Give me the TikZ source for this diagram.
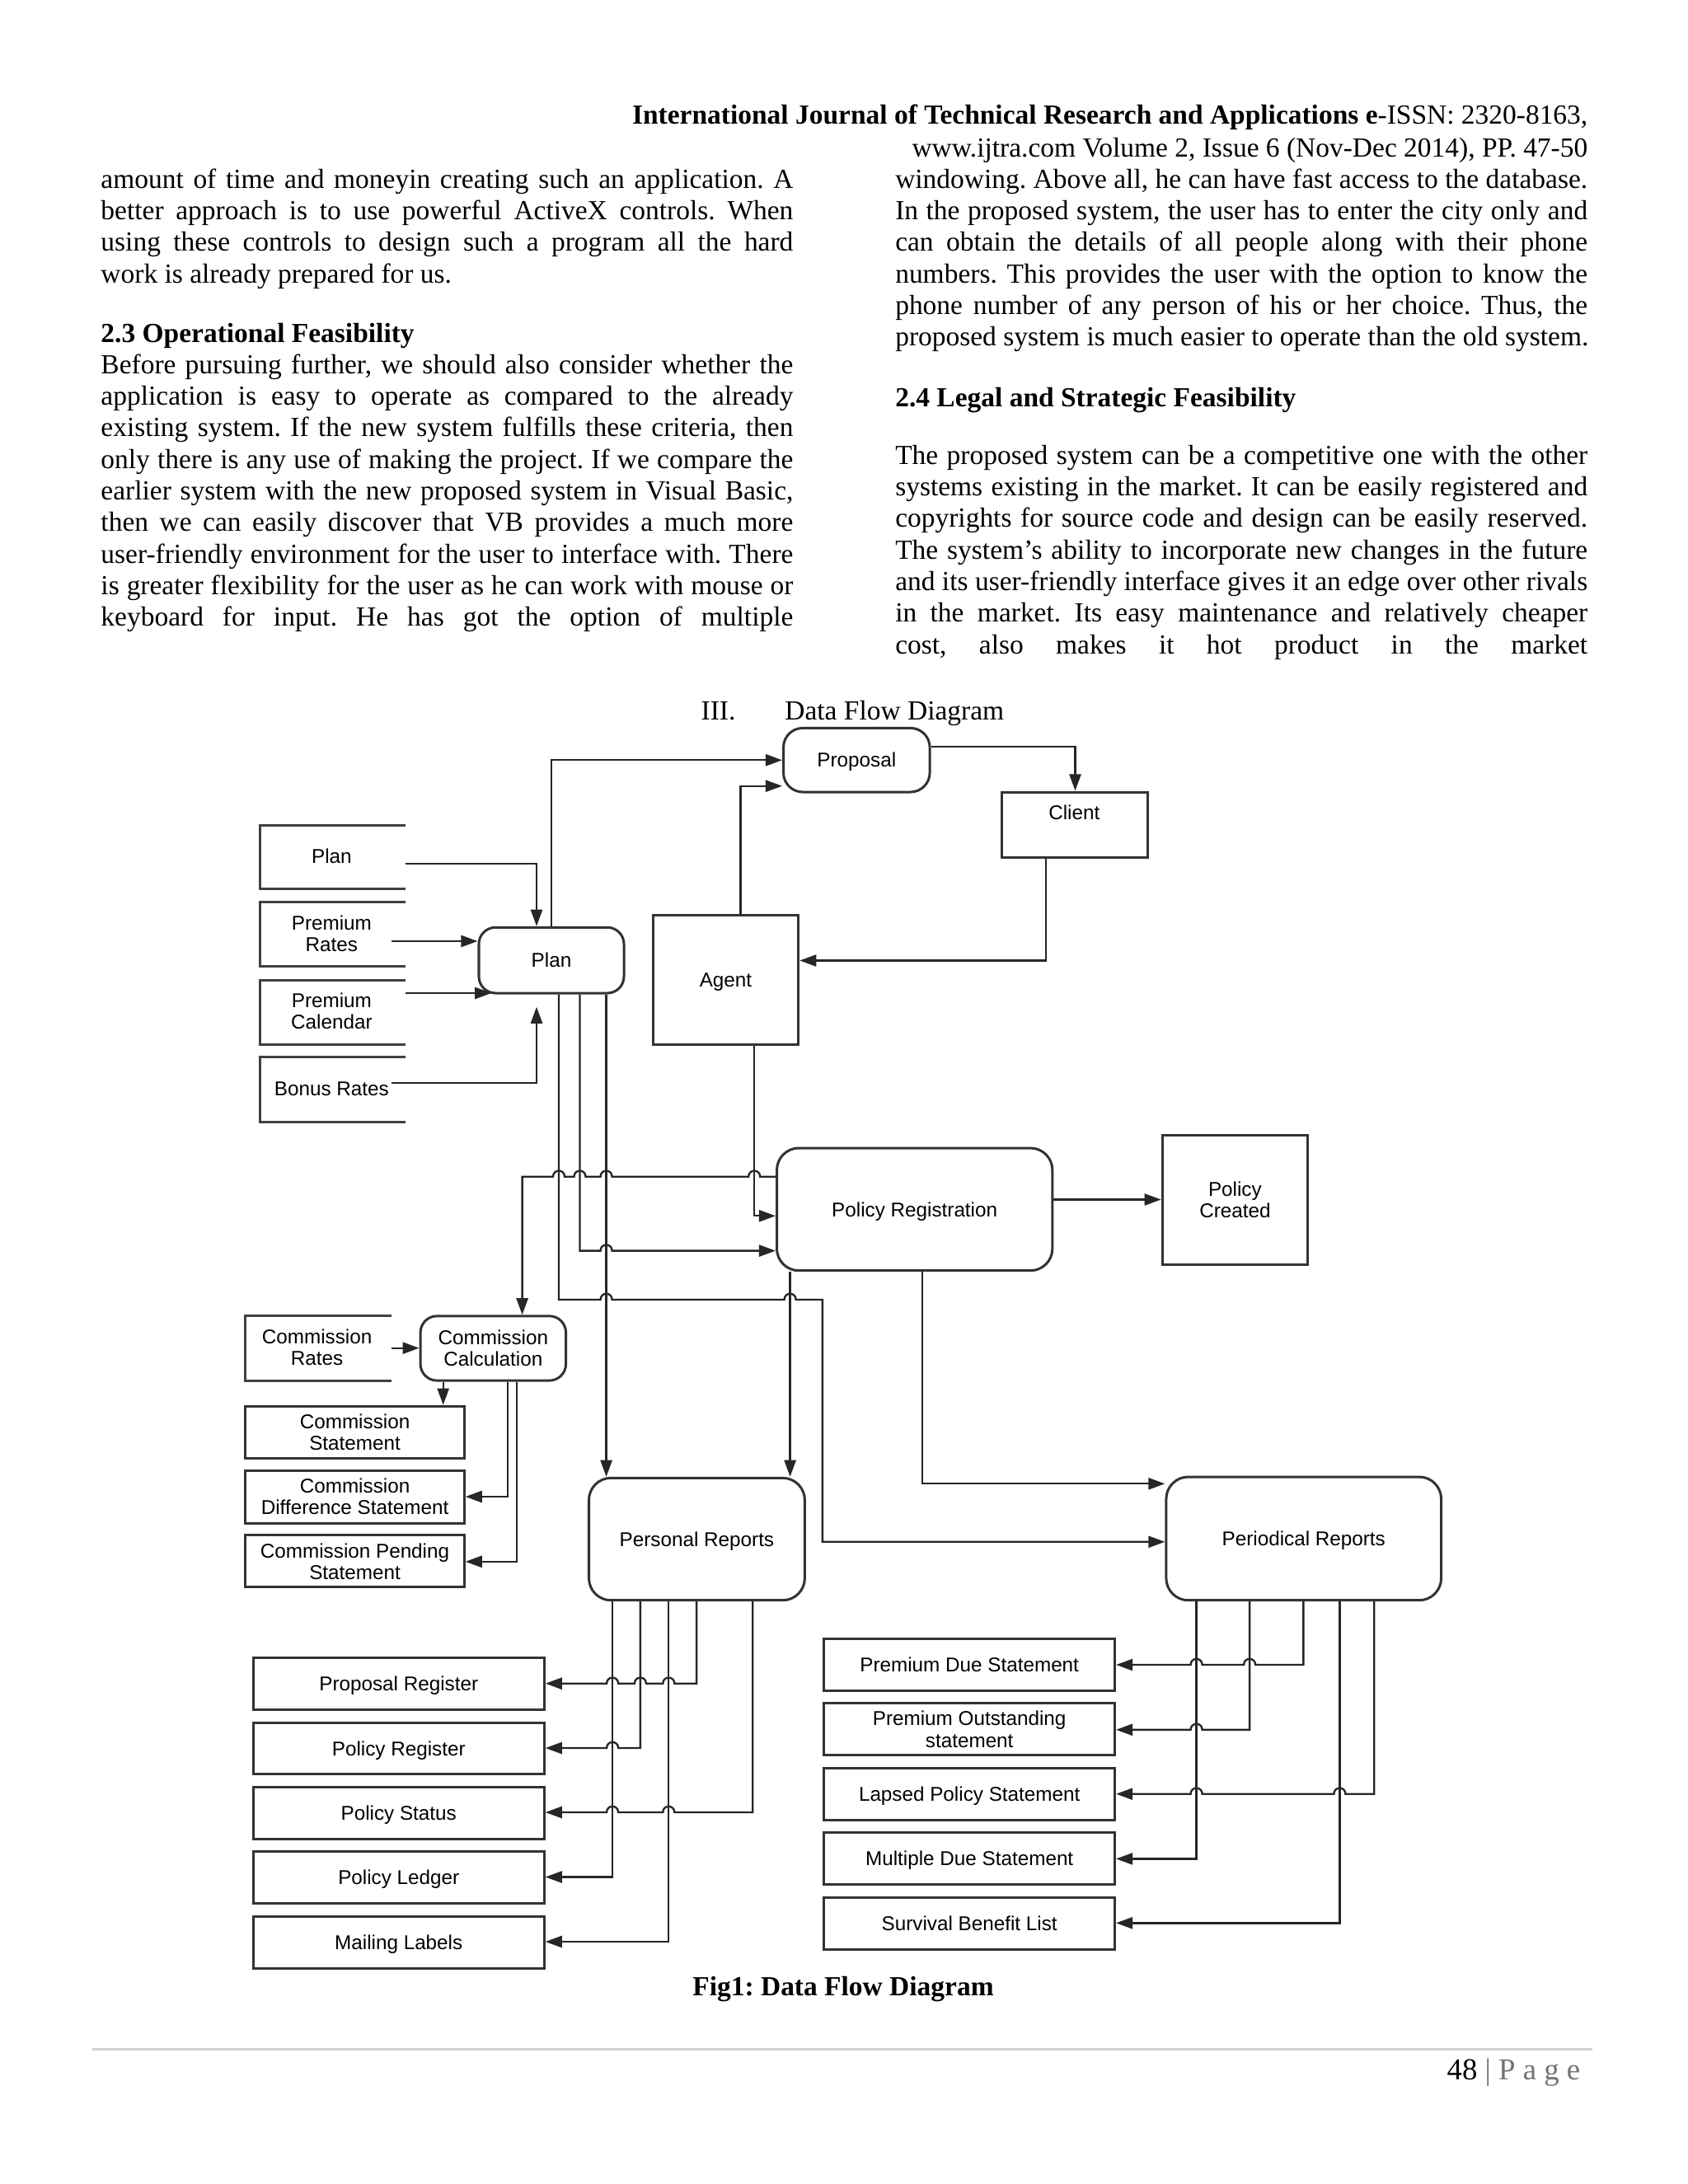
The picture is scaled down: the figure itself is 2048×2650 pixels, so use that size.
\documentclass[tikz,border=0pt]{standalone}
\usepackage{fontspec}
\setmainfont{Liberation Serif}
\newfontfamily\dsans{Liberation Sans}
\usetikzlibrary{arrows.meta}
\frenchspacing
\newcommand\dfont{\dsans\fontsize{7.25}{7.8}\selectfont}
\newcommand\jl[1]{\makebox[251pt][s]{#1}}
\newcommand\lfl[1]{\makebox[251pt][l]{#1}}
\newcommand\mkbox[7]{\node[#1, minimum width={(#5-#3)*0.29883pt}, minimum height={(#6-#4)*0.29883pt}] (#2) at ({(#3+#5)/2},{(#4+#6)/2}) {#7};}
\begin{document}
\frenchspacing
\begin{tikzpicture}[x=0.29883pt,y=-0.29883pt,
 txt/.style={anchor=base west,inner sep=0pt,font=\fontsize{10}{11.5}\selectfont},
 lbl/.style={inner sep=0pt,font=\dfont,align=center,text height=5.2pt,text depth=0pt},
 lbltwo/.style={lbl,text height=13pt,text depth=0pt},
 procbox/.style={draw=black!80,line width=0.9pt,rounded corners=6pt,inner sep=0pt,font=\dfont,align=center,text height=5.2pt,text depth=0pt},
 extbox/.style={procbox,sharp corners},
 two/.style={text height=13pt,text depth=0pt},
 storeln/.style={draw=black!75,line width=0.9pt},
 conn/.style={draw=black!85,line width=0.7pt},
 arr/.style={conn,-{Triangle[length=6pt,width=4.2pt]}},
 hopRL/.style 2 args={insert path={-- ({#1+7},#2) .. controls ({#1+7},{#2-9.5}) and ({#1-7},{#2-9.5}) .. ({#1-7},#2)}},
 hopLR/.style 2 args={insert path={-- ({#1-7},#2) .. controls ({#1-7},{#2-9.5}) and ({#1+7},{#2-9.5}) .. ({#1+7},#2)}}
]
\fill[white] (0,0) rectangle (2048,2650);
\useasboundingbox (0,0) rectangle (2048,2650);

% ---------- header ----------
\node[txt,anchor=base east] (hd1) at (1927,150) {\textbf{International Journal of Technical Research and Applications e}-ISSN: 2320-8163,};
\node[txt,anchor=base east] (hd2) at (1927,190) {www.ijtra.com Volume 2, Issue 6 (Nov-Dec 2014), PP. 47-50};

% ---------- left column ----------
\node[txt] (lc1) at (121.8,228.3) {\jl{amount of time and moneyin creating such an application. A}};
\node[txt] (lc2) at (121.8,266.6) {\jl{better approach is to use powerful ActiveX controls. When}};
\node[txt] (lc3) at (121.8,304.9) {\jl{using these controls to design such a program all the hard}};
\node[txt] (lc4) at (121.8,343.2) {\lfl{work is already prepared for us.}};
\node[txt] (lh) at (121.8,415) {\textbf{2.3 Operational Feasibility}};
\node[txt] (lp1) at (121.8,453.3) {\jl{Before pursuing further, we should also consider whether the}};
\node[txt] (lp2) at (121.8,491.6) {\jl{application is easy to operate as compared to the already}};
\node[txt] (lp3) at (121.8,529.9) {\jl{existing system. If the new system fulfills these criteria, then}};
\node[txt] (lp4) at (121.8,568.2) {\jl{only there is any use of making the project. If we compare the}};
\node[txt] (lp5) at (121.8,606.5) {\jl{earlier system with the new proposed system in Visual Basic,}};
\node[txt] (lp6) at (121.8,644.8) {\jl{then we can easily discover that VB provides a much more}};
\node[txt] (lp7) at (121.8,683.1) {\jl{user-friendly environment for the user to interface with. There}};
\node[txt] (lp8) at (121.8,721.4) {\jl{is greater flexibility for the user as he can work with mouse or}};
\node[txt] (lp9) at (121.8,759.7) {\jl{keyboard for input. He has got the option of multiple}};

% ---------- right column ----------
\node[txt] (rc1) at (1085.6,228.3) {\jl{windowing. Above all, he can have fast access to the database.}};
\node[txt] (rc2) at (1085.6,266.6) {\jl{In the proposed system, the user has to enter the city only and}};
\node[txt] (rc3) at (1085.6,304.9) {\jl{can obtain the details of all people along with their phone}};
\node[txt] (rc4) at (1085.6,343.2) {\jl{numbers. This provides the user with the option to know the}};
\node[txt] (rc5) at (1085.6,381.5) {\jl{phone number of any person of his or her choice. Thus, the}};
\node[txt] (rc6) at (1085.6,419.8) {\lfl{proposed system is much easier to operate than the old system.}};
\node[txt] (rh) at (1085.6,493.3) {\textbf{2.4 Legal and Strategic Feasibility}};
\node[txt] (rp1) at (1085.6,563.3) {\jl{The proposed system can be a competitive one with the other}};
\node[txt] (rp2) at (1085.6,601.6) {\jl{systems existing in the market. It can be easily registered and}};
\node[txt] (rp3) at (1085.6,639.9) {\jl{copyrights for source code and design can be easily reserved.}};
\node[txt] (rp4) at (1085.6,678.2) {\jl{The system’s ability to incorporate new changes in the future}};
\node[txt] (rp5) at (1085.6,716.5) {\jl{and its user-friendly interface gives it an edge over other rivals}};
\node[txt] (rp6) at (1085.6,754.8) {\jl{in the market. Its easy maintenance and relatively cheaper}};
\node[txt] (rp7) at (1085.6,793.1) {\jl{cost, also makes it hot product in the market}};

% ---------- section title ----------
\node[txt] (sec3a) at (850,873) {III.};
\node[txt] (sec3b) at (951.7,873) {Data Flow Diagram};

% ---------- data stores (open boxes) ----------
\draw[storeln] (492.2,1001) -- (315.7,1001) -- (315.7,1078.7) -- (492.2,1078.7);
\draw[storeln] (492.2,1094.3) -- (315.7,1094.3) -- (315.7,1172.7) -- (492.2,1172.7);
\draw[storeln] (492.2,1189) -- (315.7,1189) -- (315.7,1267.7) -- (492.2,1267.7);
\draw[storeln] (492.2,1282.7) -- (315.7,1282.7) -- (315.7,1361.3) -- (492.2,1361.3);
\draw[storeln] (474.9,1596.8) -- (297.9,1596.8) -- (297.9,1675.1) -- (474.9,1675.1);
\node[lbl] (sPlan) at (402.4,1039) {Plan};
\node[lbltwo] (sRates) at (402.4,1133) {Premium\\Rates};
\node[lbltwo] (sCal) at (402.4,1227) {Premium\\Calendar};
\node[lbl] (sBonus) at (402.4,1320.7) {Bonus Rates};
\node[lbltwo] (sCom) at (384.6,1635.1) {Commission\\Rates};
\coordinate (oPlan) at (492.2,1047.7);
\coordinate (oRates) at (474.9,1142);
\coordinate (oCal) at (492.2,1205);
\coordinate (oBonus) at (474.9,1313.7);
\coordinate (oCom) at (474.9,1635.7);
\coordinate (bonusTip) at (651,1221.7);

% ---------- boxes ----------
\mkbox{procbox,rounded corners=7pt}{proposal}{950.5}{883.4}{1128.1}{961}{Proposal}
\mkbox{extbox}{client}{1215.4}{961}{1392.4}{1040}{}
\node[lbl] (clientlbl) at (1303.3,986.2) {Client};
\mkbox{procbox}{plan}{581}{1125.3}{757}{1205}{Plan}
\mkbox{extbox}{agent}{792.2}{1110.3}{968.8}{1267.7}{Agent}
\mkbox{procbox,rounded corners=8pt}{pr}{942.5}{1393}{1276.9}{1541.7}{Policy Registration}
\mkbox{extbox,two}{polc}{1410.2}{1377}{1586.6}{1534}{Policy\\Created}
\mkbox{procbox,two}{cc}{510.1}{1596.8}{686.6}{1675.1}{Commission\\Calculation}
\mkbox{extbox,two}{cstat}{297.9}{1706.2}{563.2}{1769.2}{Commission\\Statement}
\mkbox{extbox,two}{cdiff}{297.9}{1784.1}{563.2}{1848}{Commission\\Difference Statement}
\mkbox{extbox,two}{cpend}{297.9}{1862.9}{563.2}{1925.9}{Commission Pending\\Statement}
\mkbox{procbox,rounded corners=8pt}{persr}{714.5}{1793.3}{976.4}{1941.7}{Personal Reports}
\mkbox{procbox,rounded corners=8pt}{perio}{1414.9}{1792}{1748.6}{1941.7}{Periodical Reports}
\mkbox{extbox}{propreg}{307.3}{2011}{660.2}{2074}{Proposal Register}
\mkbox{extbox}{polreg}{307.3}{2090}{660.2}{2152.7}{Policy Register}
\mkbox{extbox}{polstat}{307.3}{2168.3}{660.2}{2231}{Policy Status}
\mkbox{extbox}{polledg}{307.3}{2246.7}{660.2}{2309.3}{Policy Ledger}
\mkbox{extbox}{mail}{307.3}{2325}{660.2}{2388.3}{Mailing Labels}
\mkbox{extbox}{pdue}{999.8}{1988.9}{1352.6}{2051.5}{Premium Due Statement}
\mkbox{extbox,two}{pout}{999.8}{2066.8}{1352.6}{2129.8}{Premium Outstanding\\statement}
\mkbox{extbox}{plapse}{999.8}{2145.6}{1352.6}{2208.2}{Lapsed Policy Statement}
\mkbox{extbox}{pmult}{999.8}{2223.9}{1352.6}{2286.5}{Multiple Due Statement}
\mkbox{extbox}{psurv}{999.8}{2302.3}{1352.6}{2365}{Survival Benefit List}

% ---------- connectors ----------
\draw[arr] (oPlan) -- (651,1047.7) -- (plan.north -| 651,0);
\draw[arr] (oRates) -- (oRates -| plan.west);
\draw[arr] (oCal) -- ([xshift=5pt]plan.south west |- oCal);
\draw[arr] (oBonus) -- (oBonus -| bonusTip) -- (bonusTip);
\draw[arr] (plan.north -| 668.8,0) -- (668.8,922.3) -- (proposal.west |- 0,922.3);
\draw[arr] (agent.north -| 898.4,0) -- (898.4,953.7) -- (proposal.west |- 0,953.7);
\draw[arr] (proposal.east |- 0,905.9) -- (1304.5,905.9) -- (client.north -| 1304.5,0);
\draw[arr] (client.south -| 1268.9,0) -- (1268.9,1165.5) -- (agent.east |- 0,1165.5);
\draw[arr] (agent.south -| 915.2,0) -- (915.2,1475.3) -- (pr.west |- 0,1475.3);
\draw[arr] (pr.east |- 0,1455.5) -- (polc.west |- 0,1455.5);
\draw[arr] (pr.west |- 0,1427.7) [hopRL={915.2}{1427.7}] [hopRL={735.6}{1427.7}] [hopRL={703.5}{1427.7}] [hopRL={678}{1427.7}] -- (633.6,1427.7) -- (cc.north -| 633.6,0);
\draw[arr] (plan.south -| 703.5,0) -- (703.5,1517.6) [hopLR={735.6}{1517.6}] -- (pr.west |- 0,1517.6);
\draw[arr] (plan.south -| 678,0) -- (678,1576.9) [hopLR={735.6}{1576.9}] [hopLR={958.6}{1576.9}] -- (997.9,1576.9) -- (997.9,1870.8) -- (perio.west |- 0,1870.8);
\draw[arr] (plan.south -| 735.6,0) -- (persr.north -| 735.6,0);
\draw[arr] (pr.south -| 958.6,0) -- (persr.north -| 958.6,0);
\draw[arr] (pr.south -| 1119,0) -- (1119,1800.3) -- (perio.west |- 0,1800.3);
\draw[arr] (oCom) -- (oCom -| cc.west);
\draw[arr] (cc.south -| 537.7,0) -- (cstat.north -| 537.7,0);
\draw[arr] (cc.south -| 616.2,0) -- (616.2,1816) -- (cdiff.east |- 0,1816);
\draw[arr] (cc.south -| 626.9,0) -- (626.9,1894.8) -- (cpend.east |- 0,1894.8);
% personal reports outputs
\draw[arr] (persr.south -| 845.1,0) -- (845.1,2042.7) [hopRL={811.3}{2042.7}] [hopRL={776.9}{2042.7}] [hopRL={743.1}{2042.7}] -- (propreg.east |- 0,2042.7);
\draw[arr] (persr.south -| 776.9,0) -- (776.9,2121) [hopRL={743.1}{2121}] -- (polreg.east |- 0,2121);
\draw[arr] (persr.south -| 913.3,0) -- (913.3,2199) [hopRL={811.3}{2199}] [hopRL={743.1}{2199}] -- (polstat.east |- 0,2199);
\draw[arr] (persr.south -| 743.1,0) -- (743.1,2277.5) -- (polledg.east |- 0,2277.5);
\draw[arr] (persr.south -| 811.3,0) -- (811.3,2356) -- (mail.east |- 0,2356);
% periodical reports outputs
\draw[arr] (perio.south -| 1581.4,0) -- (1581.4,2020) [hopRL={1516.1}{2020}] [hopRL={1451.6}{2020}] -- (pdue.east |- 0,2020);
\draw[arr] (perio.south -| 1516.1,0) -- (1516.1,2098.8) [hopRL={1451.6}{2098.8}] -- (pout.east |- 0,2098.8);
\draw[arr] (perio.south -| 1667.2,0) -- (1667.2,2176.7) [hopRL={1625.4}{2176.7}] [hopRL={1451.6}{2176.7}] -- (plapse.east |- 0,2176.7);
\draw[arr] (perio.south -| 1451.6,0) -- (1451.6,2255.4) -- (pmult.east |- 0,2255.4);
\draw[arr] (perio.south -| 1625.4,0) -- (1625.4,2333.3) -- (psurv.east |- 0,2333.3);

% ---------- caption and footer ----------
\node[txt,anchor=base] (cap) at (1023,2421.7) {\textbf{Fig1: Data Flow Diagram}};
\draw[black!18,line width=0.9pt] (112,2486.7) -- (1932,2486.7);
\node[txt,anchor=base east,font=\fontsize{11}{13}\selectfont] (pg) at (1918,2523) {48 {\color{black!55}| P a g e}};
\end{tikzpicture}
\end{document}
